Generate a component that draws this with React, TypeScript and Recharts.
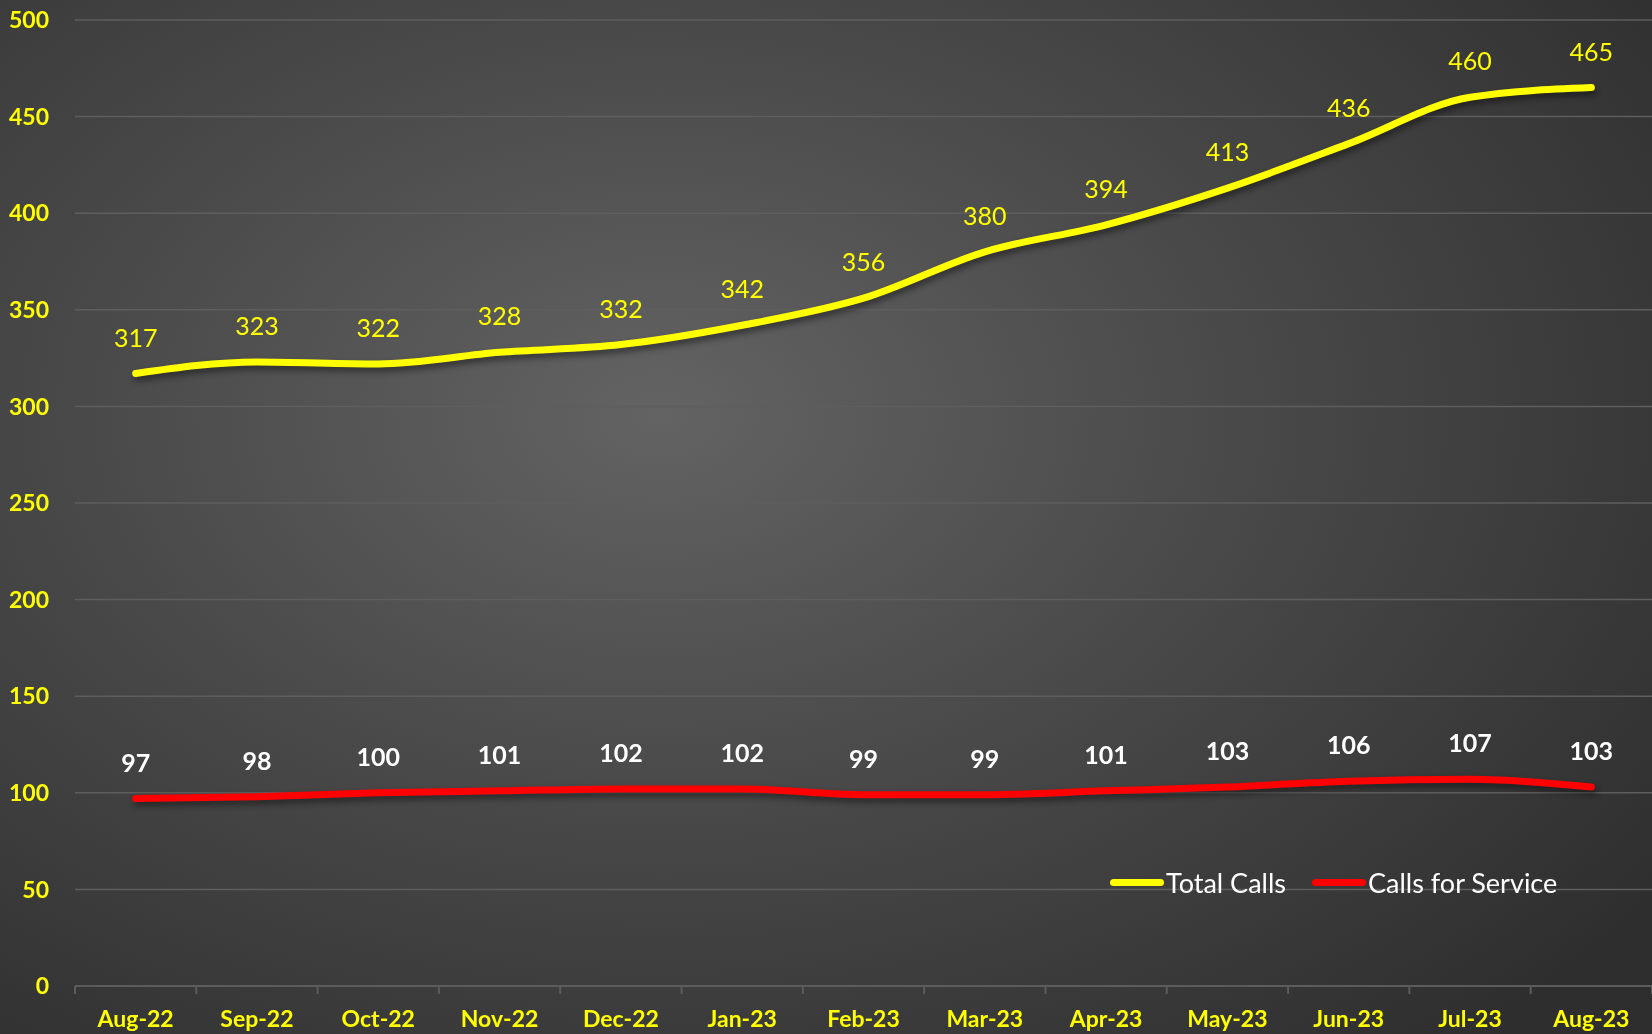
import React from 'react';
import { LineChart, Line, XAxis, YAxis, CartesianGrid, LabelList } from 'recharts';

const months = ['Aug-22', 'Sep-22', 'Oct-22', 'Nov-22', 'Dec-22', 'Jan-23', 'Feb-23', 'Mar-23', 'Apr-23', 'May-23', 'Jun-23', 'Jul-23', 'Aug-23'];
const totalCalls = [317, 323, 322, 328, 332, 342, 356, 380, 394, 413, 436, 460, 465];
const callsForService = [97, 98, 100, 101, 102, 102, 99, 99, 101, 103, 106, 107, 103];
const yTicks = [0, 50, 100, 150, 200, 250, 300, 350, 400, 450, 500];

const data = months.map((m, i) => ({ month: m, total: totalCalls[i], service: callsForService[i] }));

const W = 1652;
const H = 1034;
const LEFT = 75;
const STEP = (W - LEFT) / months.length;
const FONT = 'Lato, "Open Sans", sans-serif';

const XTick = (props: any) => {
  const { x, y, payload, index } = props;
  return (
    <g>
      <line x1={x - STEP / 2} x2={x - STEP / 2} y1={y - 8} y2={y} stroke="#5c5c5c" strokeWidth={2} />
      {index === months.length - 1 && (
        <line x1={x + STEP / 2} x2={x + STEP / 2} y1={y - 8} y2={y} stroke="#5c5c5c" strokeWidth={2} />
      )}
      <text x={x} y={y + 33} textAnchor="middle" fill="#ffff00" fontWeight={700} fontSize={23} fontFamily={FONT}>
        {payload.value}
      </text>
    </g>
  );
};

const makeLabel = (color: string, weight: number) => (props: any) => {
  const { x, y, value } = props;
  return (
    <text x={x} y={y - 27} textAnchor="middle" fill={color} fontWeight={weight} fontSize={25} fontFamily={FONT}>
      {value}
    </text>
  );
};

const LegendBox = () => (
  <div
    style={{
      position: 'absolute',
      left: 1110,
      top: 866,
      display: 'flex',
      alignItems: 'center',
      fontFamily: FONT,
      fontSize: 27,
      color: '#ffffff',
      whiteSpace: 'nowrap',
    }}
  >
    <span style={{ width: 54, height: 7, borderRadius: 3.5, background: '#ffff00', display: 'inline-block' }} />
    <span style={{ marginLeft: 2 }}>Total Calls</span>
    <span style={{ width: 54, height: 7, borderRadius: 3.5, background: '#ff0000', display: 'inline-block', marginLeft: 26 }} />
    <span style={{ marginLeft: 2 }}>Calls for Service</span>
  </div>
);

export default function App() {
  return (
    <div
      style={{
        position: 'fixed',
        left: 0,
        top: 0,
        width: W,
        height: H,
        background: 'radial-gradient(ellipse 75% 80% at 40% 40%, #636363 0%, #4a4a4a 45%, #2e2e2e 100%)',
      }}
    >
      <LineChart width={W} height={H} data={data} margin={{ top: 20, right: 0, bottom: 0, left: 0 }}>
        <CartesianGrid vertical={false} stroke="#5e5e5e" strokeWidth={1.5} />
        <XAxis
          dataKey="month"
          height={48}
          padding={{ left: STEP / 2, right: STEP / 2 }}
          axisLine={{ stroke: '#5c5c5c', strokeWidth: 2 }}
          tickLine={false}
          interval={0}
          tick={<XTick />}
        />
        <YAxis
          width={LEFT}
          domain={[0, 500]}
          ticks={yTicks}
          axisLine={false}
          tickLine={false}
          tickMargin={20}
          tick={{ fill: '#ffff00', fontWeight: 700, fontSize: 23, fontFamily: FONT }}
        />
        <Line
          type="monotone"
          dataKey="total"
          name="Total Calls"
          stroke="#ffff00"
          strokeWidth={7}
          strokeLinecap="round"
          dot={false}
          activeDot={false}
          isAnimationActive={false}
          style={{ filter: 'drop-shadow(2px 4px 3px rgba(0,0,0,0.45))' }}
        >
          <LabelList dataKey="total" content={makeLabel('#ffff00', 400)} />
        </Line>
        <Line
          type="monotone"
          dataKey="service"
          name="Calls for Service"
          stroke="#ff0000"
          strokeWidth={7}
          strokeLinecap="round"
          dot={false}
          activeDot={false}
          isAnimationActive={false}
          style={{ filter: 'drop-shadow(2px 4px 3px rgba(0,0,0,0.45))' }}
        >
          <LabelList dataKey="service" content={makeLabel('#ffffff', 700)} />
        </Line>
      </LineChart>
      <LegendBox />
    </div>
  );
}
